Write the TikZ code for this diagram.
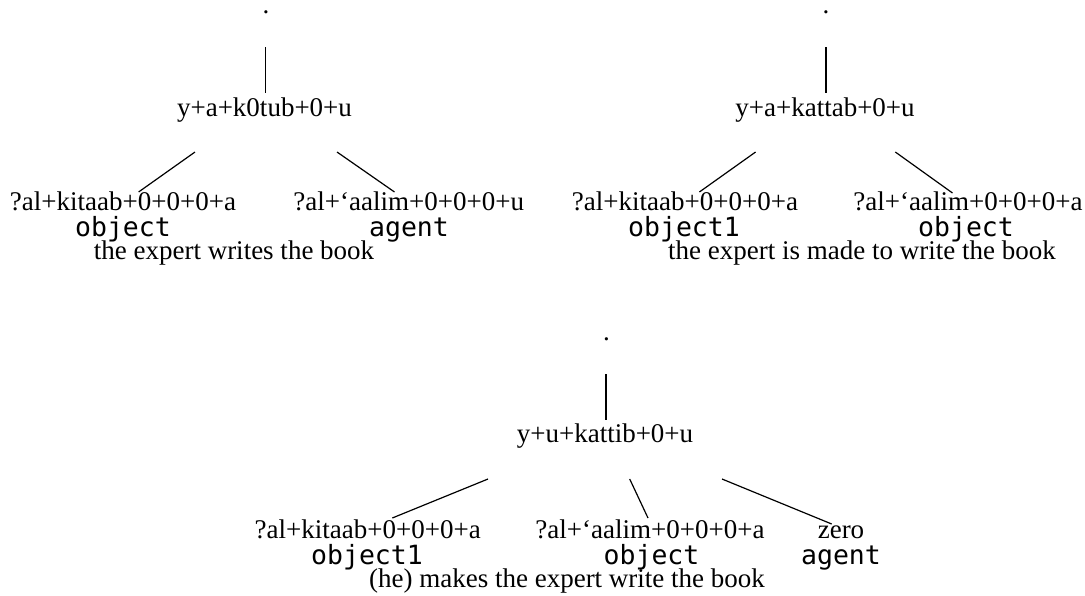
\documentclass[tikz,border=0pt]{standalone}
\usepackage{fontspec}
\setmainfont{Liberation Serif}
\newfontfamily\monof{DejaVu Sans Mono}
\begin{document}
\begin{tikzpicture}[x=1pt,y=-1pt,
  lbl/.style={inner sep=0pt, anchor=base, font=\fontsize{27}{30}\selectfont},
  dotlbl/.style={inner sep=0pt, anchor=base, text height=3pt, text depth=0pt, font=\fontsize{27}{30}\selectfont},
  mono/.style={inner sep=0pt, anchor=base, font=\fontsize{26.5}{30}\selectfont\monof},
  edge/.style={line width=1.2pt}]
\useasboundingbox (0,0) rectangle (1085,595);

% ---------- tree 1 ----------
\node[dotlbl] (d1) at (266,13) {.};
\node[lbl] (r1) at (264.5,116) {y+a+k0tub+0+u};
\node[lbl] (c1a) at (123,210) {?al+kitaab+0+0+0+a};
\node[mono] (m1a) at (123,236) {object};
\node[lbl] (c1b) at (408.7,210) {?al+‘aalim+0+0+0+u};
\node[mono] (m1b) at (409,236) {agent};
\node[lbl] (g1) at (234,259) {the expert writes the book};
\coordinate (v1t) at (265.5,47);
\coordinate (v1b) at (265.5,93);
\coordinate (e1as) at (195,152);
\coordinate (e1ae) at (138.6,192);
\coordinate (e1bs) at (337,152);
\coordinate (e1be) at (394.5,192);
\draw[edge] (v1t) -- (v1b);
\draw[edge] (e1as) -- (e1ae);
\draw[edge] (e1bs) -- (e1be);

% ---------- tree 2 ----------
\node[dotlbl] (d2) at (826,13) {.};
\node[lbl] (r2) at (825,116) {y+a+kattab+0+u};
\node[lbl] (c2a) at (685,210) {?al+kitaab+0+0+0+a};
\node[mono] (m2a) at (684,236) {object1};
\node[lbl] (c2b) at (968,210) {?al+‘aalim+0+0+0+a};
\node[mono] (m2b) at (966,236) {object};
\node[lbl] (g2) at (862,259) {the expert is made to write the book};
\coordinate (v2t) at (826,47);
\coordinate (v2b) at (826,93);
\coordinate (e2as) at (755.6,152);
\coordinate (e2ae) at (699.4,192);
\coordinate (e2bs) at (895.3,152);
\coordinate (e2be) at (952.5,193);
\draw[edge] (v2t) -- (v2b);
\draw[edge] (e2as) -- (e2ae);
\draw[edge] (e2bs) -- (e2be);

% ---------- tree 3 ----------
\node[dotlbl] (d3) at (606.5,340) {.};
\node[lbl] (r3) at (605,442) {y+u+kattib+0+u};
\node[lbl] (c3a) at (367.7,538) {?al+kitaab+0+0+0+a};
\node[mono] (m3a) at (367,564) {object1};
\node[lbl] (c3b) at (650,538) {?al+‘aalim+0+0+0+a};
\node[mono] (m3b) at (651.5,564) {object};
\node[lbl] (c3c) at (841,538) {zero};
\node[mono] (m3c) at (841,564) {agent};
\node[lbl] (g3) at (567,587) {(he) makes the expert write the book};
\coordinate (v3t) at (606,374);
\coordinate (v3b) at (606,420);
\coordinate (e3as) at (488,479);
\coordinate (e3ae) at (392.3,518);
\coordinate (e3bs) at (629.7,479);
\coordinate (e3be) at (648,518);
\coordinate (e3cs) at (722,479);
\coordinate (e3ce) at (831.7,524);
\draw[edge] (v3t) -- (v3b);
\draw[edge] (e3as) -- (e3ae);
\draw[edge] (e3bs) -- (e3be);
\draw[edge] (e3cs) -- (e3ce);
\end{tikzpicture}
\end{document}
